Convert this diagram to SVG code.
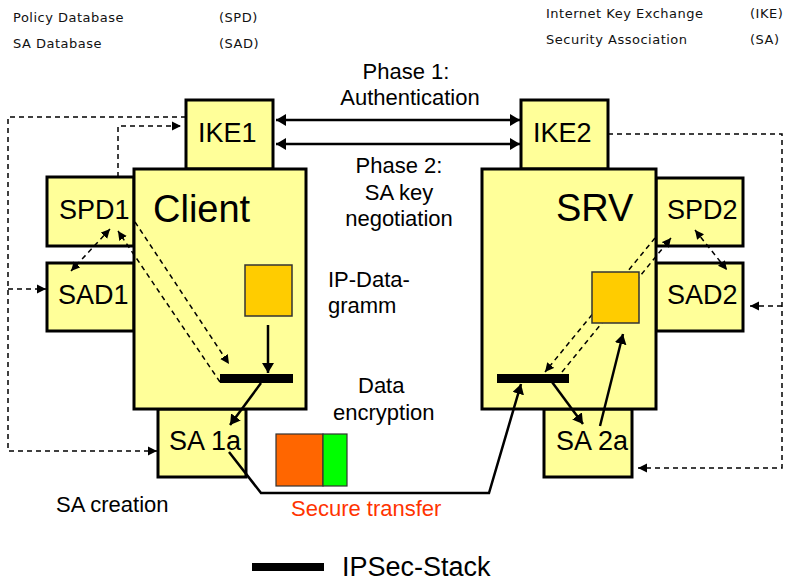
<svg xmlns="http://www.w3.org/2000/svg" width="788" height="582" viewBox="0 0 788 582">
  <style>
    .box{fill:#ffff99;stroke:#000;stroke-width:3}
    .lbl{font-family:"Liberation Sans",Arial,sans-serif;fill:#000}
    .big{font-size:27px}
    .huge{font-size:38px}
    .mid{font-size:22px}
    .legend{font-family:"DejaVu Sans",Verdana,sans-serif;font-size:13px;letter-spacing:0.5px;fill:#111}
    .solid{fill:none;stroke:#000;stroke-width:2.5}
    .dash{fill:none;stroke:#000;stroke-width:1.5;stroke-dasharray:5 4}
    .data{fill:#ffcc00;stroke:#333;stroke-width:1.5}
    .stack{fill:#000}
  </style>
  <defs>
    <marker id="ah" viewBox="0 0 10 12" refX="10" refY="6" markerWidth="10" markerHeight="12" markerUnits="userSpaceOnUse" orient="auto-start-reverse">
      <path d="M0,0 L10,6 L0,12 z" fill="#000"/>
    </marker>
    <marker id="dah" viewBox="0 0 10 10" refX="10" refY="5" markerWidth="9" markerHeight="10" markerUnits="userSpaceOnUse" orient="auto-start-reverse">
      <path d="M0,0 L10,5 L0,10 z" fill="#000"/>
    </marker>
  </defs>

  <rect width="788" height="582" fill="#fff"/>

  <!-- abbreviation legend -->
  <g id="legend-abbrev">
    <text class="legend" x="13" y="22">Policy Database</text>
    <text class="legend" x="219" y="22">(SPD)</text>
    <text class="legend" x="13" y="48">SA Database</text>
    <text class="legend" x="219" y="48">(SAD)</text>
    <text class="legend" x="546" y="18">Internet Key Exchange</text>
    <text class="legend" x="750" y="18">(IKE)</text>
    <text class="legend" x="546" y="44">Security Association</text>
    <text class="legend" x="750" y="44">(SA)</text>
  </g>

  <!-- client side -->
  <g id="spd1"><rect class="box" x="47" y="177" width="87" height="69"/><text class="lbl big" x="59" y="219">SPD1</text></g>
  <g id="sad1"><rect class="box" x="47" y="263" width="87" height="68"/><text class="lbl big" x="58" y="304">SAD1</text></g>
  <g id="ike1"><rect class="box" x="186" y="100" width="87" height="69"/><text class="lbl big" x="198" y="142">IKE1</text></g>
  <g id="sa1a"><rect class="box" x="158" y="409" width="88" height="68"/></g>
  <g id="client"><rect class="box" x="134" y="169" width="172" height="240"/><text class="lbl huge" x="153" y="222">Client</text></g>

  <!-- server side -->
  <g id="spd2"><rect class="box" x="656" y="178" width="87" height="68"/><text class="lbl big" x="667" y="219">SPD2</text></g>
  <g id="sad2"><rect class="box" x="656" y="263" width="87" height="68"/><text class="lbl big" x="667" y="304">SAD2</text></g>
  <g id="ike2"><rect class="box" x="521" y="100" width="87" height="69"/><text class="lbl big" x="533" y="142">IKE2</text></g>
  <g id="sa2a"><rect class="box" x="544" y="409" width="88" height="68"/></g>
  <g id="srv"><rect class="box" x="482" y="169" width="174" height="240"/><text class="lbl huge" x="556" y="221">SRV</text></g>

  <!-- connectors -->
  <g id="connectors">
    <!-- IKE phases -->
    <path class="solid" d="M276,120 H520" marker-start="url(#ah)" marker-end="url(#ah)"/>
    <path class="solid" d="M276,144 H520" marker-start="url(#ah)" marker-end="url(#ah)"/>
    <!-- client datagram path -->
    <path class="solid" d="M268,325 V373" marker-end="url(#ah)"/>
    <path class="solid" d="M261,383 L230,425" marker-end="url(#ah)"/>
    <!-- secure transfer -->
    <path class="solid" d="M229,452 L261,493 H489 L521,384" marker-end="url(#ah)"/>
    <!-- server datagram path -->
    <path class="solid" d="M552,382 L583,424" marker-end="url(#ah)"/>
    <path class="solid" d="M600,426 L623,334" marker-end="url(#ah)"/>
    <!-- SA creation, client -->
    <path class="dash" d="M186,117 H8 V451 H157" marker-end="url(#dah)"/>
    <path class="dash" d="M8,289 H46" marker-end="url(#dah)"/>
    <path class="dash" d="M118,177 V126 H181" marker-end="url(#dah)"/>
    <path class="dash" d="M110,229 L71,271" marker-start="url(#dah)" marker-end="url(#dah)"/>
    <path class="dash" d="M135,222 L229,364" marker-end="url(#dah)"/>
    <path class="dash" d="M220,382 L118,231" marker-end="url(#dah)"/>
    <!-- SA creation, server -->
    <path class="dash" d="M608,134 H782 V468 H638" marker-end="url(#dah)"/>
    <path class="dash" d="M782,306 H750" marker-end="url(#dah)"/>
    <path class="dash" d="M695,230 L727,270" marker-start="url(#dah)" marker-end="url(#dah)"/>
    <path class="dash" d="M655,238 L545,372" marker-end="url(#dah)"/>
    <path class="dash" d="M562,372 L671,238" marker-end="url(#dah)"/>
  </g>

  <!-- IP datagrams and IPSec stacks -->
  <g id="datagram-client"><rect class="data" x="245" y="265" width="47" height="51"/></g>
  <g id="datagram-srv"><rect class="data" x="592" y="272" width="47" height="51"/></g>
  <g id="ipsec-client"><rect class="stack" x="220" y="374" width="73" height="9"/></g>
  <g id="ipsec-srv"><rect class="stack" x="497" y="374" width="72" height="9"/></g>

  <!-- SA labels above the transfer line -->
  <text class="lbl big" x="169" y="450">SA 1a</text>
  <text class="lbl big" x="556" y="450">SA 2a</text>

  <!-- encrypted packet -->
  <g id="packet">
    <rect x="276" y="434" width="47" height="52" fill="#ff6600" stroke="#333" stroke-width="1.2"/>
    <rect x="323" y="434" width="24" height="52" fill="#00ff00" stroke="#333" stroke-width="1.2"/>
  </g>

  <!-- captions -->
  <g id="captions" class="lbl mid">
    <text x="406" y="79" text-anchor="middle">Phase 1:</text>
    <text x="410" y="105" text-anchor="middle">Authentication</text>
    <text x="399" y="173" text-anchor="middle">Phase 2:</text>
    <text x="399" y="200" text-anchor="middle">SA key</text>
    <text x="399" y="226" text-anchor="middle">negotiation</text>
    <text x="328" y="287">IP-Data-</text>
    <text x="328" y="313">gramm</text>
    <text x="358" y="393">Data</text>
    <text x="333" y="420">encryption</text>
    <text x="56" y="512">SA creation</text>
    <text x="291" y="516" fill="#ff3300">Secure transfer</text>
  </g>

  <!-- stack legend -->
  <g id="legend-stack">
    <rect class="stack" x="252" y="563" width="72" height="8"/>
    <text class="lbl" x="342" y="576" font-size="27">IPSec-Stack</text>
  </g>
</svg>
